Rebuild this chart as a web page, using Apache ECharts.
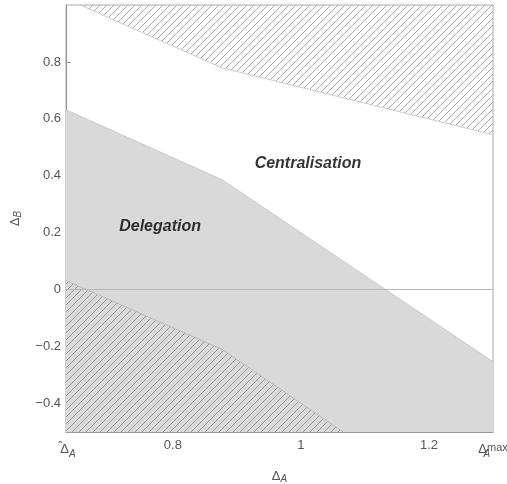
<!DOCTYPE html>
<html>
<head>
<meta charset="utf-8">
<script src="https://cdn.jsdelivr.net/npm/echarts@6/dist/echarts.min.js"></script>
<style>html,body{margin:0;padding:0;background:#fff}#c{width:507px;height:484px}</style>
</head>
<body>
<div id="c"></div>
<script>
// Axis ranges
const xMin = 0.633, xMax = 1.3;
const yMin = -0.5, yMax = 1.0;
// Tick values
const xTickValues = [0.8, 1.0, 1.2];
const xLabelValues = [0.633, 0.8, 1.0, 1.2, 1.3];
const yTickValues = [-0.4, -0.2, 0, 0.2, 0.4, 0.6, 0.8];
// Region boundaries [Delta_A, Delta_B]
const delegationBoundary = [[0.633, 0.632], [0.877, 0.386], [1.3, -0.253]];
const lowerHatchBoundary = [[0.633, 0.032], [0.877, -0.21], [1.066, -0.5]];
const upperHatchBoundary = [[0.655, 1.0], [0.877, 0.779], [1.3, 0.544]];
// Region labels
const regionLabels = [
  { name: 'Centralisation', value: [1.011, 0.442] },
  { name: 'Delegation', value: [0.78, 0.221] }
];

function hatch(color) {
  const s = 7;
  const c = document.createElement('canvas');
  c.width = s; c.height = s;
  const g = c.getContext('2d');
  g.strokeStyle = color; g.lineWidth = 1;
  g.beginPath();
  g.moveTo(-1, s + 1); g.lineTo(s + 1, -1);
  g.moveTo(-1, 1); g.lineTo(1, -1);
  g.moveTo(s - 1, s + 1); g.lineTo(s + 1, s - 1);
  g.stroke();
  return c;
}

const font = '"Liberation Sans", Arial, sans-serif';
const txt = '#555';

function fmtY(v) {
  const r = Math.round(v * 10) / 10;
  if (r === 0) return '0';
  return (r < 0 ? '\u2212' : '') + Math.abs(r).toString();
}
function fmtX(v) {
  if (Math.abs(v - xMin) < 1e-6) return '{hz|\u02C6}{dd|\u0394}{sub|A}';
  if (Math.abs(v - xMax) < 1e-6) return '{dd|\u0394}{sub0|A}{sup|max}';
  const r = Math.round(v * 10) / 10;
  return r === 1 ? '1' : r.toString();
}

const chart = echarts.init(document.getElementById('c'));
chart.setOption({
  animation: false,
  backgroundColor: '#fff',
  grid: { left: 66, right: 14, top: 5, bottom: 52, show: true, borderColor: '#aaa', borderWidth: 1, outerBoundsMode: 'none', containLabel: false },
  xAxis: {
    type: 'value', min: xMin, max: xMax,
    name: '{d|\u0394}{sub|A}', nameLocation: 'middle', nameGap: 36,
    nameTextStyle: {
      rich: {
        d: { fontFamily: font, fontSize: 13, color: txt },
        sub: { fontFamily: font, fontSize: 10, color: txt, fontStyle: 'italic', verticalAlign: 'bottom', padding: [6, 0, 0, 0] }
      }
    },
    axisLine: { show: true, onZero: false, lineStyle: { color: '#999', width: 1.2 } },
    axisTick: { show: true, inside: true, length: 5, customValues: xTickValues, lineStyle: { color: '#999' } },
    splitLine: { show: false },
    axisLabel: {
      customValues: xLabelValues, margin: 7, formatter: fmtX,
      fontFamily: font, fontSize: 13, color: txt,
      rich: {
        hz: { fontFamily: font, fontSize: 13, color: txt, verticalAlign: 'top', width: 0.1, padding: [2, 0, 0, 4] },
        dd: { fontFamily: font, fontSize: 13, color: txt, lineHeight: 20 },
        sub: { fontFamily: font, fontSize: 10, color: txt, fontStyle: 'italic', verticalAlign: 'bottom' },
        sub0: { fontFamily: font, fontSize: 10, color: txt, fontStyle: 'italic', verticalAlign: 'bottom', width: 0.1 },
        sup: { fontFamily: font, fontSize: 11, color: txt, verticalAlign: 'top', padding: [3, 0, 0, 0] }
      }
    }
  },
  yAxis: {
    type: 'value', min: yMin, max: yMax,
    name: '{d|\u0394}{sub|B}', nameLocation: 'middle', nameGap: 43, nameRotate: 90,
    nameTextStyle: {
      rich: {
        d: { fontFamily: font, fontSize: 13, color: txt },
        sub: { fontFamily: font, fontSize: 10, color: txt, fontStyle: 'italic', verticalAlign: 'bottom', padding: [6, 0, 0, 0] }
      }
    },
    axisLine: { show: true, onZero: false, lineStyle: { color: '#999', width: 1.2 } },
    axisTick: { show: true, inside: true, length: 5, customValues: yTickValues, lineStyle: { color: '#999' } },
    splitLine: { show: false },
    axisLabel: { customValues: yTickValues, margin: 5, formatter: fmtY, fontFamily: font, fontSize: 13, color: txt }
  },
  series: [
    {
      type: 'line', data: delegationBoundary, symbol: 'none', z: 1,
      lineStyle: { color: '#cbcbcb', width: 1 },
      areaStyle: { origin: 'start', color: '#d9d9d9', opacity: 1 },
      markLine: {
        silent: true, symbol: 'none', label: { show: false },
        lineStyle: { color: '#b8b8b8', width: 1, type: 'solid' },
        data: [{ yAxis: 0 }]
      }
    },
    {
      type: 'line', data: lowerHatchBoundary, symbol: 'none', z: 2,
      lineStyle: { color: '#bbb', width: 1 },
      areaStyle: { origin: 'start', color: { image: hatch('#9a9a9a'), repeat: 'repeat' }, opacity: 1 }
    },
    {
      type: 'line', data: upperHatchBoundary, symbol: 'none', z: 2,
      lineStyle: { color: '#ccc', width: 1 },
      areaStyle: { origin: 'end', color: { image: hatch('#aaaaaa'), repeat: 'repeat' }, opacity: 1 }
    },
    {
      type: 'scatter', data: regionLabels, symbolSize: 0, z: 5,
      label: {
        show: true, position: 'inside', formatter: '{b}',
        fontFamily: font, fontSize: 16, fontWeight: 'bold', fontStyle: 'italic', color: '#000'
      }
    }
  ]
});
</script>
</body>
</html>
